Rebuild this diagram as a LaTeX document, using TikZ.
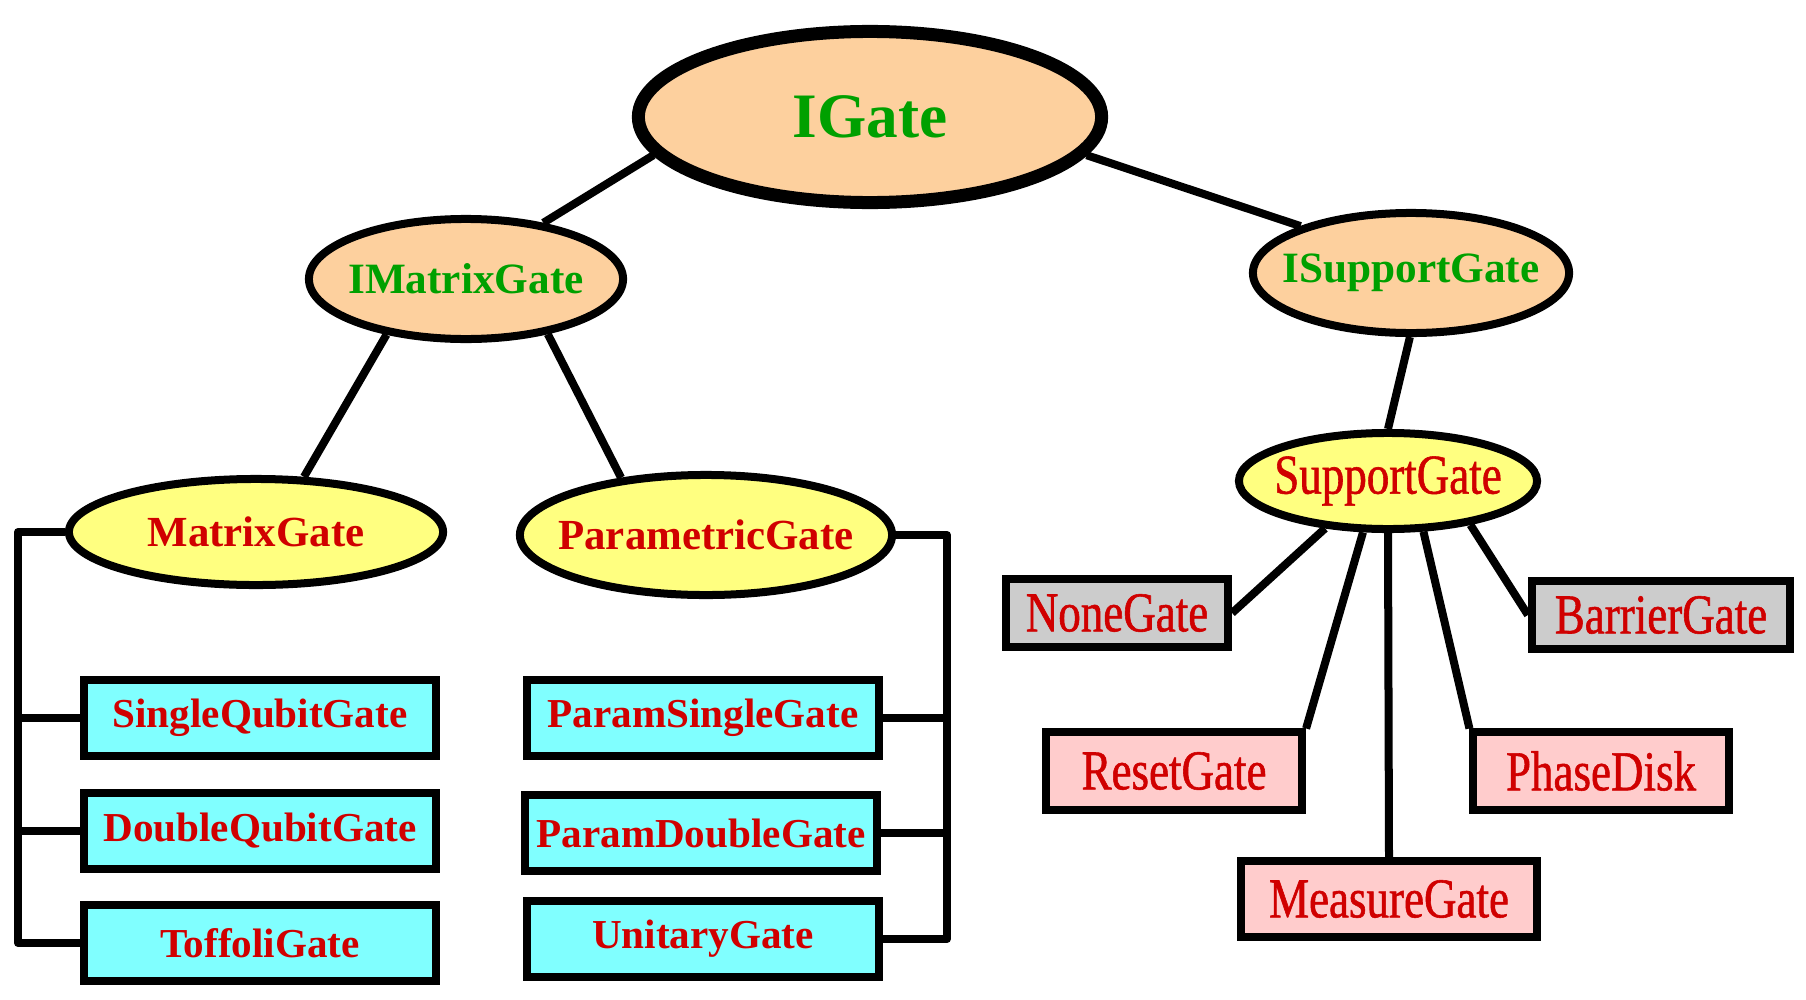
\documentclass[tikz,border=0pt]{standalone}
\usepackage{fontspec}
\setmainfont{Liberation Serif}
\newfontfamily\narrowfont[FakeStretch=0.8,FakeBold=1]{Liberation Serif}
\usetikzlibrary{shapes.geometric}

\definecolor{peach}{RGB}{253,208,158}
\definecolor{paleyellow}{RGB}{255,255,128}
\definecolor{palecyan}{RGB}{128,255,255}
\definecolor{palegray}{RGB}{204,204,204}
\definecolor{palepink}{RGB}{255,204,204}
\definecolor{gategreen}{RGB}{0,160,0}
\definecolor{gatered}{RGB}{208,0,0}

\begin{document}
\begin{tikzpicture}[x=0.01cm,y=-0.01cm,
  link/.style={line width=0.08cm},
  iface/.style={ellipse,draw,line width=0.08cm,fill=peach,inner sep=-0.3cm,
    text=gategreen,font=\fontsize{12.3}{14}\selectfont\bfseries},
  impl/.style={ellipse,draw,line width=0.08cm,fill=paleyellow,inner sep=-0.3cm,
    text=gatered,font=\fontsize{12.2}{14}\selectfont\bfseries},
  matbox/.style={rectangle,draw,line width=0.08cm,fill=palecyan,inner sep=0pt,
    minimum width=3.51cm,minimum height=0.75cm,
    text=gatered,font=\fontsize{11.7}{14}\selectfont\bfseries},
  supbox/.style={rectangle,draw,line width=0.08cm,inner sep=0pt,
    text=gatered,font=\fontsize{16}{18}\selectfont\narrowfont}]
\useasboundingbox (0,0) rectangle (1806,1000);

% Interfaces
\node [ellipse,draw,line width=0.13cm,fill=peach,inner sep=-0.3cm,
  minimum width=4.63cm,minimum height=1.71cm,text=gategreen,
  font=\fontsize{18}{20}\selectfont\bfseries] (igate) at (870,117) {IGate};
\node [iface,minimum width=3.14cm,minimum height=1.20cm] (imatrix) at (466,279) {IMatrixGate};
\node [iface,minimum width=3.16cm,minimum height=1.20cm] (isupport) at (1411,273) {ISupportGate};

% Implementations
\node [impl,minimum width=3.74cm,minimum height=1.06cm] (matrix) at (256,532) {MatrixGate};
\node [impl,minimum width=3.72cm,minimum height=1.20cm] (param) at (706,535) {ParametricGate};
\node [impl,minimum width=2.98cm,minimum height=0.96cm,
  font=\fontsize{16}{18}\selectfont\narrowfont] (support) at (1388,481) {SupportGate};

% Matrix gates
\node [matbox] (single) at (260,718) {SingleQubitGate};
\node [matbox] (double) at (260,831) {DoubleQubitGate};
\node [matbox] (toffoli) at (260,943) {ToffoliGate};

% Parametric gates
\node [matbox] (psingle) at (703,718) {ParamSingleGate};
\node [matbox] (pdouble) at (701,833) {ParamDoubleGate};
\node [matbox] (unitary) at (703,939) {UnitaryGate};

% Support gates
\node [supbox,fill=palegray,minimum width=2.22cm,minimum height=0.67cm] (none) at (1117,613) {NoneGate};
\node [supbox,fill=palegray,minimum width=2.58cm,minimum height=0.68cm] (barrier) at (1661,615) {BarrierGate};
\node [supbox,fill=palepink,minimum width=2.56cm,minimum height=0.77cm] (reset) at (1174,771) {ResetGate};
\node [supbox,fill=palepink,minimum width=2.55cm,minimum height=0.77cm] (phase) at (1601,771) {PhaseDisk};
\node [supbox,fill=palepink,minimum width=2.96cm,minimum height=0.76cm] (measure) at (1389,899) {MeasureGate};

% Tree edges
\draw [link] (igate.190) -- (imatrix.36);
\draw [link] (igate.-10) -- (isupport.157);
\draw [link] (imatrix.215) -- (matrix.49);
\draw [link] (imatrix.-34) -- (param.146);
\draw [link] (isupport.-91) -- (support.90);

\draw [link] (support.217) -- (none.east);
\draw [link] (support.244) -- (reset.north east);
\draw [link] (support.south) -- (measure.north);
\draw [link] (support.-55) -- (phase.north west);
\draw [link] (support.-28) -- (barrier.west);

% Left bus
\coordinate (lbus) at (18,0);
\draw [link,line join=round] (matrix.west) -- (matrix.west -| lbus) |- (toffoli.west);
\foreach \g in {single,double} {
\draw [link] (\g.west) -- (\g.west -| lbus);
}

% Right bus
\coordinate (rbus) at (947,0);
\draw [link,line join=round] (param.east) -- (param.east -| rbus) |- (unitary.east);
\foreach \g in {psingle,pdouble} {
\draw [link] (\g.east) -- (\g.east -| rbus);
}
\end{tikzpicture}
\end{document}
